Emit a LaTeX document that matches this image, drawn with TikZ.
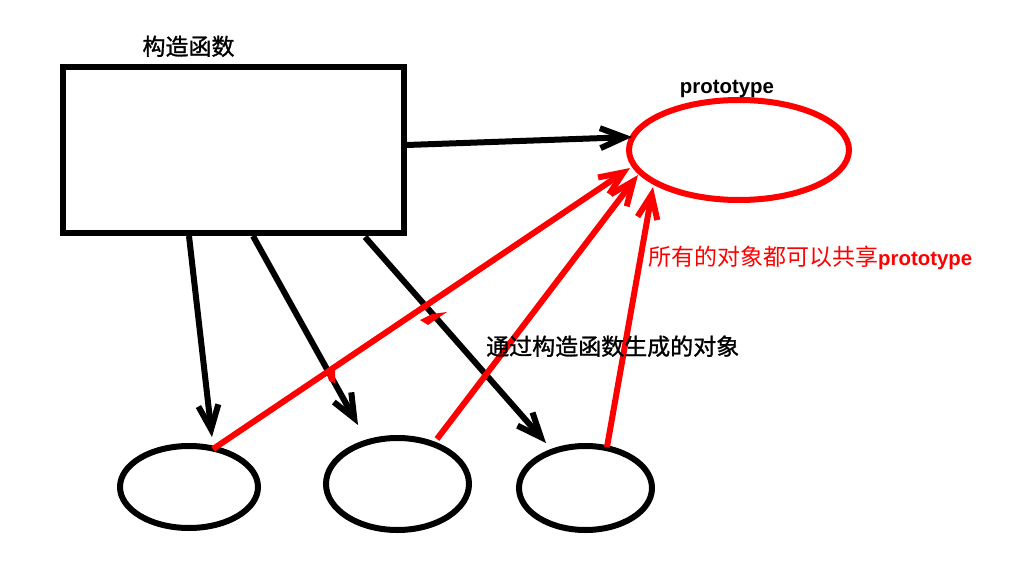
\documentclass[tikz,border=0pt]{standalone}
\usepackage{fontspec}
\setmainfont{Liberation Sans}
\newfontfamily\cjk{Noto Sans CJK SC}
\newfontfamily\cjkb[FakeBold=1.2]{Noto Sans CJK SC}
\usetikzlibrary{arrows.meta,shapes.geometric}
\begin{document}
\begin{tikzpicture}[x=1pt,y=-1pt,
  blk/.style={line width=6pt, black},
  redl/.style={line width=6pt, red},
  arr/.style={-{Straight Barb[length=24pt,width=20pt]}},
  objell/.style={draw, ellipse, line width=6pt, inner sep=0pt, outer sep=0pt},
  cjkfont/.style={font=\cjk\fontsize{23pt}{27pt}\selectfont, inner sep=0pt},
  cjkbold/.style={font=\cjkb\fontsize{23pt}{27pt}\selectfont, inner sep=0pt},
  latfont/.style={font=\rmfamily\bfseries\fontsize{20.4pt}{24pt}\selectfont, inner sep=0pt}
]
\useasboundingbox[fill=white] (0,0) rectangle (1017,572);

% constructor box
\node[draw, line width=6pt, minimum width=341pt, minimum height=166pt,
      inner sep=0pt, outer sep=0pt, line join=miter] (ctor) at (233.5,150) {};
\node[cjkbold, anchor=base] (title) at (188.5,55) {构造函数};

% prototype ellipse
\node[objell, draw=red, minimum width=220pt, minimum height=100pt] (proto) at (739,150) {};
\node[latfont, anchor=base] (protolabel) at (727,94) {prototype};

% objects
\node[objell, minimum width=138pt, minimum height=82pt] (o1) at (189,487) {};
\node[objell, minimum width=143pt, minimum height=92pt] (o2) at (397.5,484) {};
\node[objell, minimum width=133pt, minimum height=84pt] (o3) at (585.5,488) {};

% black arrows
\draw[blk, arr] ([shift={(173.5,-5)}]ctor.center) -- ([shift={(-107,-13)}]proto.center);
\draw[blk, arr] ([shift={(-44.5,86)}]ctor.center) -- ([shift={(23,-50)}]o1.center);
\draw[blk, arr] ([shift={(19.5,86)}]ctor.center) -- ([shift={(-39.5,-59)}]o2.center);
\draw[blk, arr] ([shift={(131.5,87)}]ctor.center) -- ([shift={(-39.5,-45)}]o3.center);

% red arrows
\draw[redl, arr] ([shift={(24,-38)}]o1.center) -- ([shift={(-109,18)}]proto.center);
\draw[redl, arr] ([shift={(39.5,-45)}]o2.center) -- ([shift={(-101,25)}]proto.center);
\draw[redl, arr] ([shift={(21.5,-41)}]o3.center) -- ([shift={(-86,37)}]proto.center);

% small red marks
\fill[red] (420,320) -- (432,314) -- (447,312) -- (438,318) -- (428,325) -- cycle;
\fill[red] (327,373) -- (335,368) -- (335,383) -- (329,381) -- cycle;

% labels
\node[cjkfont, text=red, anchor=base west] (share) at (648,265)
  {所有的对象都可以共享{\rmfamily\bfseries\fontsize{20.4pt}{24pt}\selectfont prototype}};
\node[cjkbold, anchor=base west] (objs) at (486,355) {通过构造函数生成的对象};
\end{tikzpicture}
\end{document}
